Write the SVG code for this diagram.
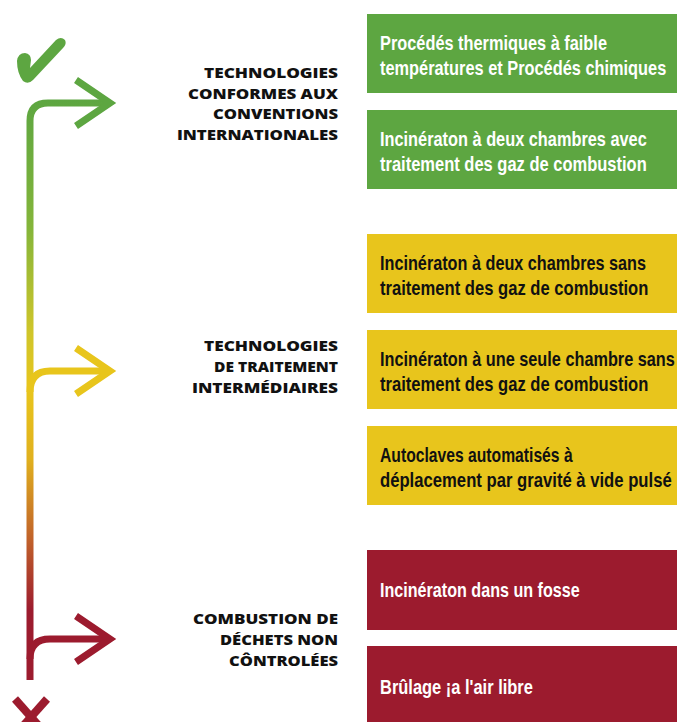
<svg xmlns="http://www.w3.org/2000/svg" width="677" height="722" viewBox="0 0 677 722">
<style>
.box-g{fill:#5DA641}
.box-y{fill:#E8C51C}
.box-r{fill:#9C1B2E}
.bt{font-family:"Liberation Sans","Open Sans",sans-serif;font-weight:bold;font-size:20px}
.bt-w{fill:#ffffff}
.bt-k{fill:#111111}
.lab{font-family:"Open Sans","Liberation Sans",sans-serif;font-weight:800;font-size:14.5px;fill:#111111;text-anchor:end}
.ln{fill:none;stroke-width:7}
.chev{fill:none;stroke-width:7;stroke-linejoin:miter;stroke-linecap:butt}
</style>
<defs>
<linearGradient id="spine" gradientUnits="userSpaceOnUse" x1="0" y1="100" x2="0" y2="680">
<stop offset="0" stop-color="#5DA641"/>
<stop offset="0.22" stop-color="#84B53A"/>
<stop offset="0.40" stop-color="#CFC52A"/>
<stop offset="0.50" stop-color="#E8C51C"/>
<stop offset="0.62" stop-color="#E0B01E"/>
<stop offset="0.76" stop-color="#C0602A"/>
<stop offset="0.88" stop-color="#9C1B2E"/>
<stop offset="1" stop-color="#9C1B2E"/>
</linearGradient>
</defs>

<g id="connectors">
<path class="ln" stroke="url(#spine)" d="M30 680 V121 Q30 103 48 103 H108"/>
<polyline class="chev" stroke="#5DA641" points="76,80 110,103 76,126"/>
<path class="ln" stroke="#E8C51C" d="M30 392 Q30 371 50 371 H108"/>
<polyline class="chev" stroke="#E8C51C" points="76,348 110,371 76,394"/>
<path class="ln" stroke="#9C1B2E" d="M30 659 Q30 639 50 639 H108"/>
<polyline class="chev" stroke="#9C1B2E" points="76,616 110,639 76,662"/>
</g>

<g id="check-icon">
<path fill="#5DA641" d="M17 61 Q18 53 25 53 Q31 54 31 60 L30 68 L56 40 Q61 36 65 40 Q67 44 63 48 L33 80 Q28 85 23 81 Q17 73 17 61 Z"/>
</g>

<g id="cross-icon">
<line x1="15" y1="699" x2="47" y2="735" stroke="#9C1B2E" stroke-width="8"/>
<line x1="47" y1="699" x2="15" y2="735" stroke="#9C1B2E" stroke-width="8"/>
</g>

<g id="label-conformes">
<text class="lab" transform="matrix(1.12 0 0 1 338 78)" textLength="119.6" lengthAdjust="spacingAndGlyphs">TECHNOLOGIES</text>
<text class="lab" transform="matrix(1.12 0 0 1 338 98.5)" textLength="133.9" lengthAdjust="spacingAndGlyphs">CONFORMES AUX</text>
<text class="lab" transform="matrix(1.12 0 0 1 338 119)" textLength="111.6" lengthAdjust="spacingAndGlyphs">CONVENTIONS</text>
<text class="lab" transform="matrix(1.12 0 0 1 338 139.5)" textLength="143.8" lengthAdjust="spacingAndGlyphs">INTERNATIONALES</text>
</g>

<g id="label-intermediaires">
<text class="lab" transform="matrix(1.12 0 0 1 338 351)" textLength="119.6" lengthAdjust="spacingAndGlyphs">TECHNOLOGIES</text>
<text class="lab" transform="matrix(1.12 0 0 1 338 372)" textLength="110.7" lengthAdjust="spacingAndGlyphs">DE TRAITEMENT</text>
<text class="lab" transform="matrix(1.12 0 0 1 338 393)" textLength="130.4" lengthAdjust="spacingAndGlyphs">INTERMÉDIAIRES</text>
</g>

<g id="label-non-controlees">
<text class="lab" transform="matrix(1.12 0 0 1 338 624)" textLength="129.5" lengthAdjust="spacingAndGlyphs">COMBUSTION DE</text>
<text class="lab" transform="matrix(1.12 0 0 1 338 645)" textLength="105.4" lengthAdjust="spacingAndGlyphs">DÉCHETS NON</text>
<text class="lab" transform="matrix(1.12 0 0 1 338 666)" textLength="97.3" lengthAdjust="spacingAndGlyphs">CÔNTROLÉES</text>
</g>

<g id="box-procedes">
<rect class="box-g" x="367" y="14" width="310" height="79"/>
<text class="bt bt-w" transform="matrix(0.78 0 0 1 380 50)" textLength="291" lengthAdjust="spacingAndGlyphs">Procédés thermiques à faible</text>
<text class="bt bt-w" transform="matrix(0.78 0 0 1 380 75)" textLength="367" lengthAdjust="spacingAndGlyphs">températures et Procédés chimiques</text>
</g>

<g id="box-deux-avec">
<rect class="box-g" x="367" y="110" width="310" height="79"/>
<text class="bt bt-w" transform="matrix(0.78 0 0 1 380 146)" textLength="342" lengthAdjust="spacingAndGlyphs">Incinératon à deux chambres avec</text>
<text class="bt bt-w" transform="matrix(0.78 0 0 1 380 171)" textLength="342" lengthAdjust="spacingAndGlyphs">traitement des gaz de combustion</text>
</g>

<g id="box-deux-sans">
<rect class="box-y" x="367" y="234" width="310" height="79"/>
<text class="bt bt-k" transform="matrix(0.78 0 0 1 380 270)" textLength="341" lengthAdjust="spacingAndGlyphs">Incinératon à deux chambres sans</text>
<text class="bt bt-k" transform="matrix(0.78 0 0 1 380 295)" textLength="344" lengthAdjust="spacingAndGlyphs">traitement des gaz de combustion</text>
</g>

<g id="box-une-sans">
<rect class="box-y" x="367" y="330" width="310" height="79"/>
<text class="bt bt-k" transform="matrix(0.78 0 0 1 380 366)" textLength="378" lengthAdjust="spacingAndGlyphs">Incinératon à une seule chambre sans</text>
<text class="bt bt-k" transform="matrix(0.78 0 0 1 380 391)" textLength="344" lengthAdjust="spacingAndGlyphs">traitement des gaz de combustion</text>
</g>

<g id="box-autoclaves">
<rect class="box-y" x="367" y="426" width="310" height="79"/>
<text class="bt bt-k" transform="matrix(0.78 0 0 1 380 462)" textLength="247" lengthAdjust="spacingAndGlyphs">Autoclaves automatisés à</text>
<text class="bt bt-k" transform="matrix(0.78 0 0 1 380 487)" textLength="374" lengthAdjust="spacingAndGlyphs">déplacement par gravité à vide pulsé</text>
</g>

<g id="box-fosse">
<rect class="box-r" x="367" y="550" width="310" height="80"/>
<text class="bt bt-w" transform="matrix(0.78 0 0 1 380 597)" textLength="256" lengthAdjust="spacingAndGlyphs">Incinératon dans un fosse</text>
</g>

<g id="box-air-libre">
<rect class="box-r" x="367" y="646" width="310" height="76"/>
<text class="bt bt-w" transform="matrix(0.78 0 0 1 380 694)" textLength="196" lengthAdjust="spacingAndGlyphs">Brûlage ¡a l'air libre</text>
</g>
</svg>
